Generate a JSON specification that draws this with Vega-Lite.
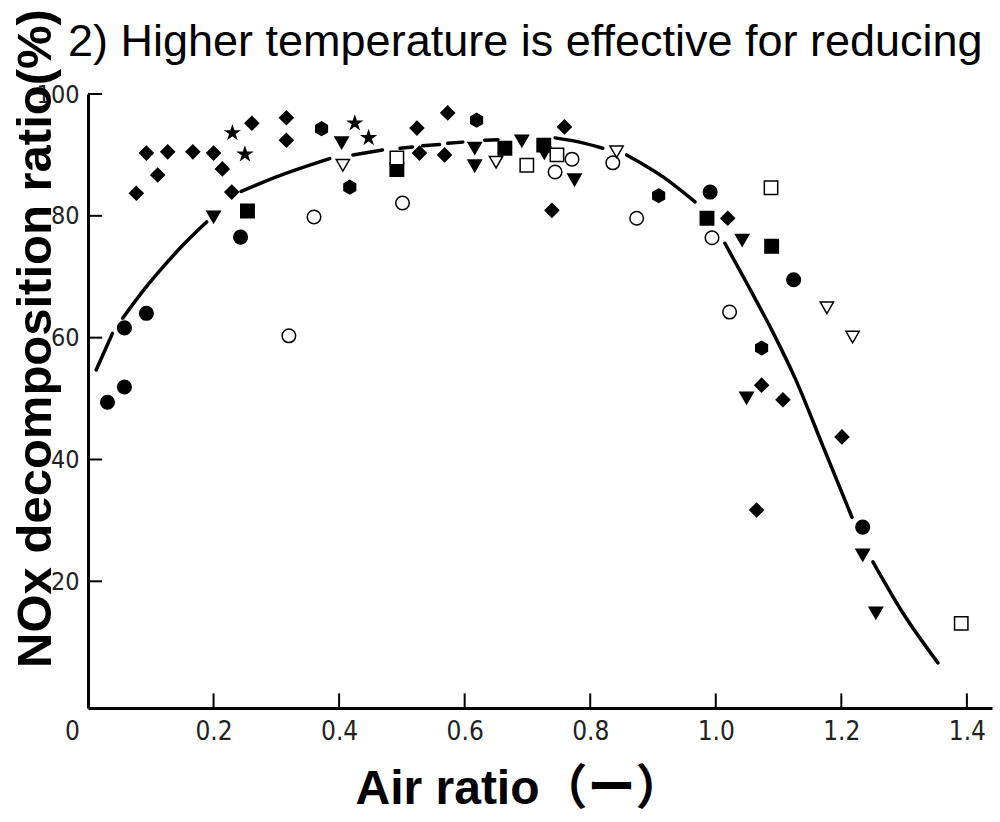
{
  "$schema": "https://vega.github.io/schema/vega-lite/v6.json",
  "autosize": {"type": "none"},
  "padding": {"left": 88, "top": 94, "right": 8, "bottom": 114},
  "width": 904,
  "height": 614,
  "background": "white",
  "title": {
    "text": "2)  Higher temperature is effective for reducing",
    "anchor": "start",
    "frame": "group",
    "dx": -20,
    "dy": 131,
    "offset": 39,
    "baseline": "alphabetic",
    "font": "Liberation Sans",
    "fontSize": 45,
    "fontWeight": "normal",
    "color": "black"
  },
  "config": {
    "view": {"stroke": null},
    "axis": {
      "grid": false,
      "domainColor": "black",
      "domainWidth": 3,
      "ticks": false,
      "labelFont": "Liberation Sans Narrow, DejaVu Sans Condensed, sans-serif",
      "labelColor": "#222",
      "labelFontSize": 25,
      "titleColor": "black",
      "titleFont": "Liberation Sans, Noto Sans CJK JP, sans-serif",
      "titleFontWeight": "bold",
      "titleFontSize": 48
    }
  },
  "datasets": {
    "xticks": [{"v": 0.2}, {"v": 0.4}, {"v": 0.6}, {"v": 0.8}, {"v": 1.0}, {"v": 1.2}, {"v": 1.4}],
    "yticks": [{"v": 20}, {"v": 40}, {"v": 60}, {"v": 80}, {"v": 100}],
    "curve": [
      {"x": 0.013, "y": 54.7, "seg": 1}, {"x": 0.039, "y": 60.7, "seg": 1},
      {"x": 0.0552, "y": 63.2, "seg": 2}, {"x": 0.0902, "y": 68.0, "seg": 2}, {"x": 0.1221, "y": 71.9, "seg": 2}, {"x": 0.154, "y": 75.5, "seg": 2}, {"x": 0.189, "y": 79.0, "seg": 2},
      {"x": 0.244, "y": 84.0, "seg": 3}, {"x": 0.300, "y": 86.4, "seg": 3}, {"x": 0.385, "y": 89.4, "seg": 3},
      {"x": 0.422, "y": 90.0, "seg": 4}, {"x": 0.469, "y": 90.8, "seg": 4},
      {"x": 0.497, "y": 91.1, "seg": 5}, {"x": 0.517, "y": 91.3, "seg": 5},
      {"x": 0.533, "y": 91.5, "seg": 6}, {"x": 0.560, "y": 91.7, "seg": 6},
      {"x": 0.573, "y": 91.9, "seg": 7}, {"x": 0.597, "y": 92.1, "seg": 7},
      {"x": 0.632, "y": 92.4, "seg": 8}, {"x": 0.653, "y": 92.5, "seg": 8},
      {"x": 0.744, "y": 92.8, "seg": 9}, {"x": 0.783, "y": 92.1, "seg": 9}, {"x": 0.820, "y": 91.1, "seg": 9},
      {"x": 0.858, "y": 90.0, "seg": 10}, {"x": 0.916, "y": 86.4, "seg": 10}, {"x": 0.967, "y": 82.3, "seg": 10},
      {"x": 1.0145, "y": 75.5, "seg": 11}, {"x": 1.0512, "y": 68.6, "seg": 11}, {"x": 1.0894, "y": 61.2, "seg": 11}, {"x": 1.1261, "y": 53.4, "seg": 11}, {"x": 1.1707, "y": 42.2, "seg": 11}, {"x": 1.217, "y": 30.5, "seg": 11},
      {"x": 1.2503, "y": 23.2, "seg": 12}, {"x": 1.2981, "y": 14.8, "seg": 12}, {"x": 1.354, "y": 6.6, "seg": 12}
    ],
    "points": [
      {"x": 0.031, "y": 49.4, "s": "filled circle"},
      {"x": 0.058, "y": 51.9, "s": "filled circle"},
      {"x": 0.058, "y": 61.6, "s": "filled circle"},
      {"x": 0.093, "y": 64.0, "s": "filled circle"},
      {"x": 0.243, "y": 76.5, "s": "filled circle"},
      {"x": 0.991, "y": 83.9, "s": "filled circle"},
      {"x": 1.124, "y": 69.5, "s": "filled circle"},
      {"x": 1.234, "y": 28.9, "s": "filled circle"},
      {"x": 0.320, "y": 60.3, "s": "open circle"},
      {"x": 0.360, "y": 79.8, "s": "open circle"},
      {"x": 0.501, "y": 82.1, "s": "open circle"},
      {"x": 0.744, "y": 87.2, "s": "open circle"},
      {"x": 0.771, "y": 89.3, "s": "open circle"},
      {"x": 0.836, "y": 88.7, "s": "open circle"},
      {"x": 0.874, "y": 79.6, "s": "open circle"},
      {"x": 0.994, "y": 76.4, "s": "open circle"},
      {"x": 1.022, "y": 64.2, "s": "open circle"},
      {"x": 0.077, "y": 83.7, "s": "diamond"},
      {"x": 0.093, "y": 90.3, "s": "diamond"},
      {"x": 0.111, "y": 86.7, "s": "diamond"},
      {"x": 0.127, "y": 90.5, "s": "diamond"},
      {"x": 0.167, "y": 90.5, "s": "diamond"},
      {"x": 0.200, "y": 90.3, "s": "diamond"},
      {"x": 0.214, "y": 87.7, "s": "diamond"},
      {"x": 0.229, "y": 83.9, "s": "diamond"},
      {"x": 0.261, "y": 95.2, "s": "diamond"},
      {"x": 0.316, "y": 96.1, "s": "diamond"},
      {"x": 0.316, "y": 92.4, "s": "diamond"},
      {"x": 0.524, "y": 94.4, "s": "diamond"},
      {"x": 0.528, "y": 90.3, "s": "diamond"},
      {"x": 0.568, "y": 90.0, "s": "diamond"},
      {"x": 0.573, "y": 96.9, "s": "diamond"},
      {"x": 0.759, "y": 94.6, "s": "diamond"},
      {"x": 0.739, "y": 80.9, "s": "diamond"},
      {"x": 1.019, "y": 79.6, "s": "diamond"},
      {"x": 1.073, "y": 52.2, "s": "diamond"},
      {"x": 1.107, "y": 49.8, "s": "diamond"},
      {"x": 1.201, "y": 43.7, "s": "diamond"},
      {"x": 1.065, "y": 31.7, "s": "diamond"},
      {"x": 0.372, "y": 94.3, "s": "hexagon"},
      {"x": 0.417, "y": 84.7, "s": "hexagon"},
      {"x": 0.619, "y": 95.7, "s": "hexagon"},
      {"x": 0.909, "y": 83.3, "s": "hexagon"},
      {"x": 1.073, "y": 58.3, "s": "hexagon"},
      {"x": 0.254, "y": 80.8, "s": "filled square"},
      {"x": 0.492, "y": 87.6, "s": "filled square"},
      {"x": 0.664, "y": 91.1, "s": "filled square"},
      {"x": 0.726, "y": 91.6, "s": "filled square"},
      {"x": 0.986, "y": 79.6, "s": "filled square"},
      {"x": 1.089, "y": 75.0, "s": "filled square"},
      {"x": 0.492, "y": 89.5, "s": "open square"},
      {"x": 0.699, "y": 88.3, "s": "open square"},
      {"x": 0.747, "y": 90.0, "s": "open square"},
      {"x": 1.088, "y": 84.6, "s": "open square"},
      {"x": 1.391, "y": 13.1, "s": "open square"},
      {"x": 0.200, "y": 79.8, "s": "filled triangle"},
      {"x": 0.404, "y": 92.0, "s": "filled triangle"},
      {"x": 0.616, "y": 91.1, "s": "filled triangle"},
      {"x": 0.616, "y": 88.2, "s": "filled triangle"},
      {"x": 0.691, "y": 92.3, "s": "filled triangle"},
      {"x": 0.727, "y": 90.3, "s": "filled triangle"},
      {"x": 0.775, "y": 85.9, "s": "filled triangle"},
      {"x": 1.042, "y": 76.0, "s": "filled triangle"},
      {"x": 1.049, "y": 50.1, "s": "filled triangle"},
      {"x": 1.234, "y": 24.3, "s": "filled triangle"},
      {"x": 1.255, "y": 14.8, "s": "filled triangle"},
      {"x": 0.406, "y": 88.3, "s": "open triangle"},
      {"x": 0.650, "y": 88.8, "s": "open triangle"},
      {"x": 0.842, "y": 90.5, "s": "open triangle"},
      {"x": 1.177, "y": 64.9, "s": "open triangle"},
      {"x": 1.218, "y": 60.1, "s": "open triangle"},
      {"x": 0.230, "y": 93.6, "s": "star"},
      {"x": 0.250, "y": 90.1, "s": "star"},
      {"x": 0.425, "y": 95.2, "s": "star"},
      {"x": 0.447, "y": 92.8, "s": "star"}
    ]
  },
  "layer": [
    {
      "data": {"name": "curve"},
      "mark": {"type": "line", "color": "black", "strokeWidth": 3.5, "interpolate": "monotone", "strokeCap": "round"},
      "encoding": {
        "x": {
          "field": "x", "type": "quantitative",
          "title": "Air ratio（ー）",
          "scale": {"domain": [0, 1.44], "nice": false, "zero": false},
          "axis": {
            "orient": "bottom",
            "values": [0, 0.2, 0.4, 0.6, 0.8, 1.0, 1.2, 1.4],
            "labelExpr": "datum.value == 0 ? '0' : format(datum.value, '.1f')",
            "labelFlush": false,
            "labelOffset": {"expr": "datum.value == 0 ? -16 : 0"},
            "labelPadding": 10,
            "labelFontSize": 26,
            "titleX": 431,
            "titleY": 95,
            "titleAlign": "center",
            "titleBaseline": "alphabetic"
          }
        },
        "y": {
          "field": "y", "type": "quantitative",
          "title": "NOx decomposition ratio(%)",
          "scale": {"domain": [-0.8, 100], "nice": false, "zero": false},
          "axis": {
            "orient": "left",
            "values": [20, 40, 60, 80, 100],
            "labelPadding": 9,
            "titleFontSize": 49,
            "titleAngle": -90,
            "titleX": -38,
            "titleY": 244,
            "titleAlign": "center",
            "titleBaseline": "alphabetic"
          }
        },
        "detail": {"field": "seg", "type": "nominal"}
      }
    },
    {
      "data": {"name": "xticks"},
      "mark": {"type": "rule", "color": "black", "strokeWidth": 2},
      "encoding": {
        "x": {"field": "v", "type": "quantitative", "title": "Air ratio（ー）"},
        "y": {"datum": -0.8, "type": "quantitative", "title": "NOx decomposition ratio(%)"},
        "y2": {"datum": 1.6}
      }
    },
    {
      "data": {"name": "yticks"},
      "mark": {"type": "rule", "color": "black", "strokeWidth": 2},
      "encoding": {
        "y": {"field": "v", "type": "quantitative", "title": "NOx decomposition ratio(%)"},
        "x": {"datum": 0, "type": "quantitative", "title": "Air ratio（ー）"},
        "x2": {"datum": 0.0225}
      }
    },
    {
      "data": {"name": "points"},
      "mark": {"type": "point", "filled": true, "opacity": 1, "strokeWidth": 1.5},
      "encoding": {
        "x": {"field": "x", "type": "quantitative", "title": "Air ratio（ー）"},
        "y": {"field": "y", "type": "quantitative", "title": "NOx decomposition ratio(%)"},
        "shape": {
          "field": "s", "type": "nominal", "legend": null,
          "scale": {
            "domain": ["filled circle", "open circle", "diamond", "hexagon", "filled square", "open square", "filled triangle", "open triangle", "star"],
            "range": ["circle", "circle", "diamond", "M0,-1L0.866,-0.5L0.866,0.5L0,1L-0.866,0.5L-0.866,-0.5Z", "square", "square", "triangle-down", "triangle-down", "M0,-1L0.225,-0.309L0.951,-0.309L0.363,0.118L0.588,0.809L0,0.382L-0.588,0.809L-0.363,0.118L-0.951,-0.309L-0.225,-0.309Z"]
          }
        },
        "fill": {
          "field": "s", "type": "nominal", "legend": null,
          "scale": {
            "domain": ["filled circle", "open circle", "diamond", "hexagon", "filled square", "open square", "filled triangle", "open triangle", "star"],
            "range": ["black", "white", "black", "black", "black", "white", "black", "white", "black"]
          }
        },
        "size": {
          "field": "s", "type": "nominal", "legend": null,
          "scale": {
            "domain": ["filled circle", "open circle", "diamond", "hexagon", "filled square", "open square", "filled triangle", "open triangle", "star"],
            "range": [185, 175, 330, 230, 110, 150, 225, 230, 260]
          }
        },
        "stroke": {"value": "black"}
      }
    }
  ]
}
